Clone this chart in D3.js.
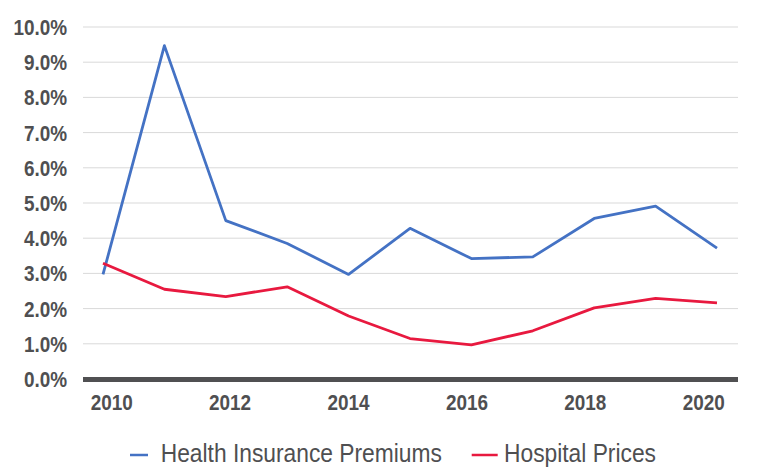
<!DOCTYPE html>
<html>
<head>
<meta charset="utf-8">
<script src="https://cdn.jsdelivr.net/npm/d3@7"></script>
<style>
  body { margin: 0; background: #fff; }
  svg { display: block; }
  text { font-family: "Liberation Sans", Arial, sans-serif; fill: #4f4f51; }
</style>
</head>
<body>
<svg id="chart"></svg>
<script>
// Data
const years = [2010, 2011, 2012, 2013, 2014, 2015, 2016, 2017, 2018, 2019, 2020];
const premiums = [2.97, 9.47, 4.50, 3.85, 2.97, 4.28, 3.42, 3.47, 4.56, 4.91, 3.72];
const hospital = [3.29, 2.55, 2.34, 2.62, 1.79, 1.15, 0.97, 1.37, 2.02, 2.29, 2.16];
const yTicks = [0, 1, 2, 3, 4, 5, 6, 7, 8, 9, 10];
const xTickLabels = [2010, 2012, 2014, 2016, 2018, 2020];
const seriesNames = ["Health Insurance Premiums", "Hospital Prices"];
const seriesColors = ["#4472c4", "#e8193f"];

// Setup svg
const width = 761;
const height = 472;
const plot = { left: 83, right: 738, top: 27, bottom: 379 };

// no condensed font installed, so squeeze Liberation Sans horizontally
const BOLD_SQUEEZE = 0.86;
const LEGEND_SQUEEZE = 0.877;

const svg = d3.select("#chart")
    .attr("width", width)
    .attr("height", height);

// Scales
const y = d3.scaleLinear().domain([0, 10]).range([plot.bottom, plot.top]);
// points sit slightly wider than the year labels, as in the original
const x = d3.scaleLinear().domain([2010, 2020]).range([103, 717]);
const xLabel = d3.scaleLinear().domain([2010, 2020]).range([111.7, 703.7]);

// Gridlines
svg.append("g")
    .selectAll("line")
    .data(yTicks.filter(d => d > 0))
    .join("line")
    .attr("x1", plot.left)
    .attr("x2", plot.right)
    .attr("y1", d => y(d))
    .attr("y2", d => y(d))
    .attr("stroke", "#d9d9d9")
    .attr("stroke-width", 1);

// Y labels
svg.append("g")
    .selectAll("text")
    .data(yTicks)
    .join("text")
    .attr("transform", d => `translate(67,${y(d) + 8}) scale(${BOLD_SQUEEZE},1)`)
    .attr("text-anchor", "end")
    .style("font-size", "22px")
    .style("font-weight", "bold")
    .text(d => d.toFixed(1) + "%");

// Lines
const line = d3.line()
    .x((d, i) => x(years[i]))
    .y(d => y(d));

[premiums, hospital].forEach((values, i) => {
    svg.append("path")
        .datum(values)
        .attr("d", line)
        .attr("fill", "none")
        .attr("stroke", seriesColors[i])
        .attr("stroke-width", 2.8)
        .attr("stroke-linejoin", "round");
});

// Baseline bar
svg.append("line")
    .attr("x1", plot.left)
    .attr("x2", plot.right)
    .attr("y1", y(0) + 0.5)
    .attr("y2", y(0) + 0.5)
    .attr("stroke", "#505052")
    .attr("stroke-width", 5);

// X labels
svg.append("g")
    .selectAll("text")
    .data(xTickLabels)
    .join("text")
    .attr("transform", d => `translate(${xLabel(d)},410) scale(${BOLD_SQUEEZE},1)`)
    .attr("text-anchor", "middle")
    .style("font-size", "22px")
    .style("font-weight", "bold")
    .text(d => d);

// Legend
const legendItems = [
    { x: 130, len: 18, tx: 160.7 },
    { x: 471.7, len: 26, tx: 504 }
];
const legend = svg.append("g");
legendItems.forEach((item, i) => {
    legend.append("line")
        .attr("x1", item.x)
        .attr("x2", item.x + item.len)
        .attr("y1", 455)
        .attr("y2", 455)
        .attr("stroke", seriesColors[i])
        .attr("stroke-width", 2.5);
    legend.append("text")
        .attr("transform", `translate(${item.tx},462.3) scale(${LEGEND_SQUEEZE},1)`)
        .style("font-size", "26px")
        .text(seriesNames[i]);
});
</script>
</body>
</html>
